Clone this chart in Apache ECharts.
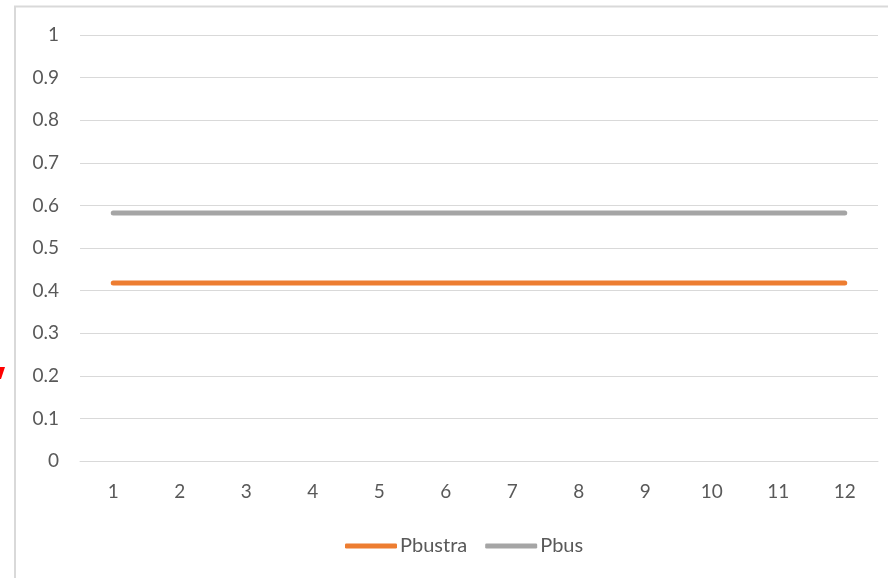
<!DOCTYPE html>
<html>
<head>
<meta charset="utf-8">
<style>
  html, body { margin: 0; padding: 0; background: #fff; }
  #chart { width: 888px; height: 578px; }
</style>
<script src="https://cdn.jsdelivr.net/npm/echarts@6/dist/echarts.min.js"></script>
</head>
<body>
<div id="chart"></div>
<script>
// Month index along the x axis
const categories = ['1', '2', '3', '4', '5', '6', '7', '8', '9', '10', '11', '12'];
// Probability series
const pbustra = [0.418, 0.418, 0.418, 0.418, 0.418, 0.418, 0.418, 0.418, 0.418, 0.418, 0.418, 0.418];
const pbus = [0.582, 0.582, 0.582, 0.582, 0.582, 0.582, 0.582, 0.582, 0.582, 0.582, 0.582, 0.582];
const yTicks = { min: 0, max: 1, interval: 0.1 };

const font = 'Lato, "Open Sans", sans-serif';
const chart = echarts.init(document.getElementById('chart'), null, { renderer: 'canvas' });

chart.setOption({
  animation: false,
  backgroundColor: '#ffffff',
  textStyle: { fontFamily: font },
  grid: { left: 80, right: 10, top: 35, bottom: 117, containLabel: false },
  legend: {
    top: 531,
    left: 340,
    itemWidth: 52,
    itemHeight: 5,
    itemGap: 18,
    textStyle: { color: '#595959', fontSize: 20, fontFamily: font, padding: [0, 0, 0, -2] },
    icon: 'roundRect',
    data: ['Pbustra', 'Pbus']
  },
  xAxis: {
    type: 'category',
    data: categories,
    boundaryGap: true,
    axisLine: { show: true, lineStyle: { color: '#d9d9d9', width: 1 } },
    axisTick: { show: false },
    axisLabel: { color: '#595959', fontSize: 19, margin: 21, fontFamily: font }
  },
  yAxis: {
    type: 'value',
    min: yTicks.min,
    max: yTicks.max,
    interval: yTicks.interval,
    axisLine: { show: false },
    axisTick: { show: false },
    axisLabel: { color: '#595959', fontSize: 19, margin: 21, fontFamily: font },
    splitLine: { lineStyle: { color: '#d9d9d9', width: 1 } }
  },
  series: [
    {
      name: 'Pbustra',
      type: 'line',
      data: pbustra,
      symbol: 'none',
      lineStyle: { color: '#ed7d31', width: 5, cap: 'round' },
      itemStyle: { color: '#ed7d31' }
    },
    {
      name: 'Pbus',
      type: 'line',
      data: pbus,
      symbol: 'none',
      lineStyle: { color: '#a5a5a5', width: 5, cap: 'round' },
      itemStyle: { color: '#a5a5a5' }
    }
  ],
  graphic: [
    // chart area frame
    {
      type: 'polyline',
      shape: { points: [[15, 578], [15, 6.5], [888, 6.5]] },
      style: { stroke: '#d9d9d9', lineWidth: 2, fill: null },
      silent: true
    },
    // red pointer tip at the left edge
    {
      type: 'polygon',
      shape: { points: [[0, 367], [5, 367], [1, 379], [0, 379]] },
      style: { fill: '#ff0000' },
      silent: true
    }
  ]
});
</script>
</body>
</html>
